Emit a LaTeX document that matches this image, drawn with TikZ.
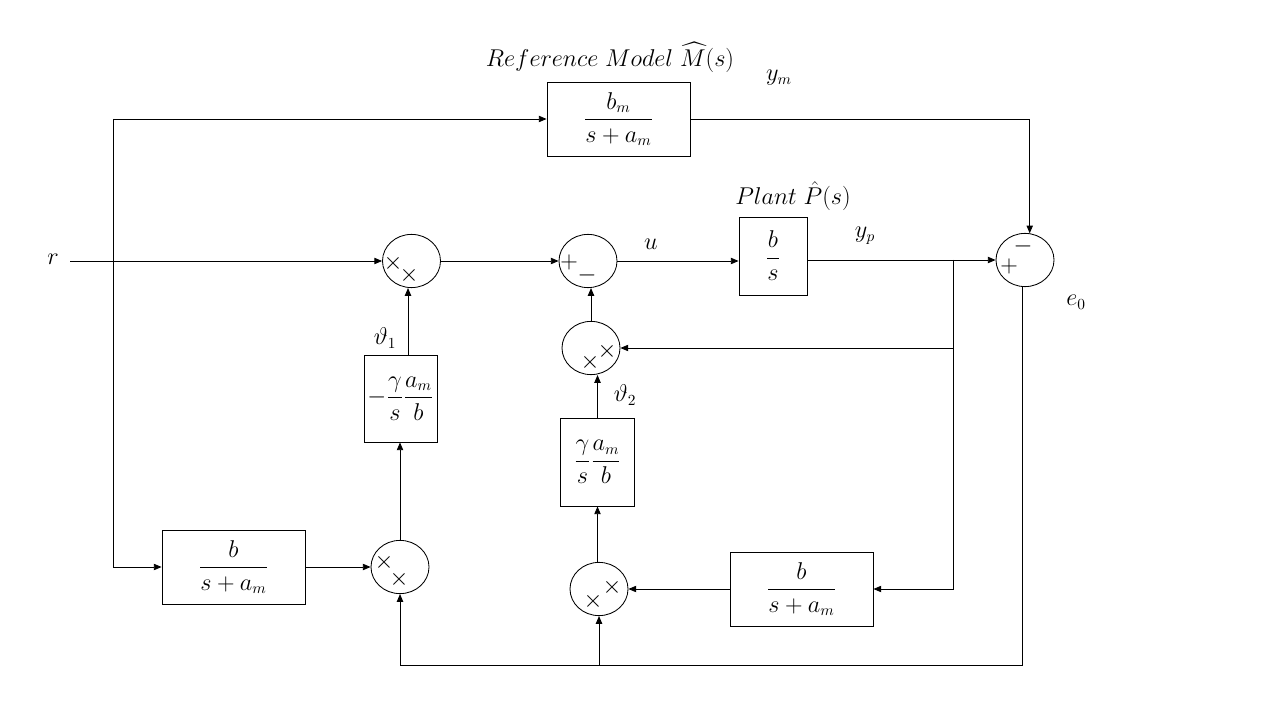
\documentclass[tikz,border=0pt]{standalone}
\usepackage{amsmath}
\usetikzlibrary{arrows.meta,shapes.geometric}
\begin{document}
\begin{tikzpicture}[x=0.025cm,y=-0.025cm,
  font=\fontsize{16}{19}\selectfont,
  blk/.style={draw, line width=0.6pt, inner sep=0pt},
  mul/.style={draw, ellipse, line width=0.6pt, minimum width=1.45cm, minimum height=1.33cm, inner sep=0pt},
  sig/.style={line width=0.6pt, -{Triangle[length=5.5pt,width=4.5pt]}},
  wire/.style={line width=0.6pt},
  mk/.style={inner sep=0pt}]

\fill[white] (0,0) rectangle (1280,720);
\useasboundingbox (0,0) rectangle (1280,720);

% transfer-function blocks
\node[blk, minimum width=3.575cm, minimum height=1.85cm] (ref) at (618.5,119) {$\dfrac{b_m}{s+a_m}$};
\node[blk, minimum width=1.7cm, minimum height=1.95cm] (plant) at (773,256) {$\dfrac{b}{s}$};
\node[blk, minimum width=1.825cm, minimum height=2.175cm] (th1) at (400.5,398.5) {$-\dfrac{\gamma}{s}\dfrac{a_m}{b}$};
\node[blk, minimum width=1.85cm, minimum height=2.2cm] (th2) at (597.5,462) {$\dfrac{\gamma}{s}\dfrac{a_m}{b}$};
\node[blk, minimum width=3.575cm, minimum height=1.85cm] (fl) at (233.5,567) {$\dfrac{b}{s+a_m}$};
\node[blk, minimum width=3.575cm, minimum height=1.85cm] (fr) at (801.5,589) {$\dfrac{b}{s+a_m}$};

% summing junctions and multipliers
\node[mul] (m1) at (411.5,261) {};
\node[mul] (s2) at (588,261) {};
\node[mul] (s3) at (1025,260) {};
\node[mul] (m3) at (591,348) {};
\node[mul] (m4) at (599,589) {};
\node[mul] (m5) at (400,567) {};

% signs inside the circles
\node[mk] (m1a) at (393,263) {$\times$};
\node[mk] (m1b) at (409,275) {$\times$};
\node[mk] (m5a) at (384,562) {$\times$};
\node[mk] (m5b) at (399,579) {$\times$};
\node[mk] (m3a) at (590,362) {$\times$};
\node[mk] (m3b) at (607,351) {$\times$};
\node[mk] (m4a) at (593,601) {$\times$};
\node[mk] (m4b) at (612,587) {$\times$};
\node[mk] (s2p) at (569,262) {$+$};
\node[mk] (s2m) at (587,275) {$-$};
\node[mk] (s3p) at (1009,266) {$+$};
\node[mk] (s3m) at (1023,246) {$-$};

% labels
\node (lref) at (610,57) {$Reference\ Model\ \widehat{M}(s)$};
\node (lplant) at (793,196) {$Plant\ \hat{P}(s)$};
\node (lym) at (779,78) {$y_m$};
\node (lyp) at (865,236) {$y_p$};
\node (lu) at (651,244) {$u$};
\node (le) at (1076,302) {$e_0$};
\node (lr) at (53,259) {$r$};
\node (lt1) at (385,338) {$\vartheta_1$};
\node (lt2) at (625,395) {$\vartheta_2$};

% junction points
\coordinate (rin) at (70,261);
\coordinate (vtop) at (113,119);
\coordinate (vbot) at (113,567);
\coordinate (br) at (953,260);
\coordinate (bot) at (0,665);

% reference branch
\draw[sig] (vtop) -- (ref.west);
\draw[sig] (vtop) -- (vbot) -- (fl.west);
\draw[sig] (ref.east) -| (s3.80);

% main loop
\draw[sig] (rin) -- (m1.west);
\draw[sig] (m1.east) -- (s2.west);
\draw[sig] (s2.east) -- (s2.east -| plant.west);
\draw[sig] (plant.east |- s3.west) -- (s3.west);
\draw[sig] (br) |- (m3.east);
\draw[sig] (br) |- (fr.east);
\draw[sig] (m3.north) -- (m3.north |- s2.south);

% adaptation of vartheta_2
\draw[sig] (fr.west) -- (m4.east);
\draw[sig] (m4.north -| th2.south) -- (th2.south);
\draw[sig] (th2.north) -- (th2.north |- m3.south);

% adaptation of vartheta_1
\draw[sig] (fl.east) -- (m5.west);
\draw[sig] (m5.north) -- (m5.north |- th1.south);
\path (th1.north) ++(7.5,0) coordinate (t1o);
\draw[sig] (t1o) -- (t1o |- m1.south);

% error feedback
\draw[sig] (s3.-95) |- (bot -| m5.south) -- (m5.south);
\draw[sig] (bot -| m4.south) -- (m4.south);
\end{tikzpicture}
\end{document}
